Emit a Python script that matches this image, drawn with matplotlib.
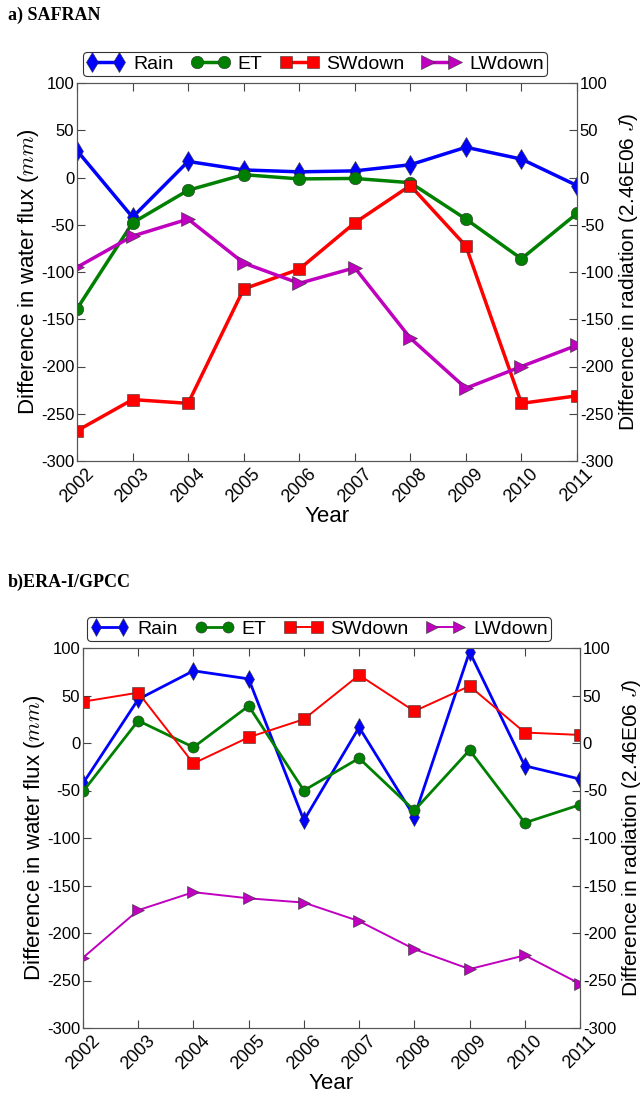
import matplotlib
matplotlib.use("Agg")
import matplotlib.pyplot as plt

plt.rcParams['font.family'] = ['Liberation Sans', 'DejaVu Sans']
plt.rcParams['axes.unicode_minus'] = False
plt.rcParams['mathtext.fontset'] = 'cm'

years = [2002, 2003, 2004, 2005, 2006, 2007, 2008, 2009, 2010, 2011]

# a) SAFRAN
rain_a = [28.5, -42, 17, 8, 6, 7, 13.5, 32, 19.5, -8.5]
et_a = [-139, -48, -13.5, 3, -1.5, -1, -5.5, -44, -86, -38]
sw_a = [-268, -235, -239, -118, -97, -48, -8.5, -72.5, -239, -231]
lw_a = [-95, -62, -44, -90.5, -112, -95.5, -170, -223, -200, -177.5]

# b) ERA-I/GPCC
rain_b = [-42.5, 46, 76, 67.5, -81.5, 16.5, -77.5, 96, -24, -38]
et_b = [-51, 23.5, -4.5, 39, -50, -16, -71, -7.5, -84, -65]
sw_b = [43.5, 53, -21.5, 6, 25, 71.5, 33.5, 60, 11, 8.5]
lw_b = [-226, -176, -157, -163.5, -168, -187.5, -217, -238, -223.5, -253.5]

yticks = [-300, -250, -200, -150, -100, -50, 0, 50, 100]

fig = plt.figure(figsize=(6.42, 10.94), dpi=100)


def panel(rect, rain, et, sw, lw, lw_main, lw_rad, ms, legend_xy):
    ax = fig.add_axes(rect)
    ax2 = ax.twinx()
    edge = dict(mec='#333333', mew=0.4)
    h1, = ax.plot(years, rain, color='b', marker='d', lw=lw_main, ms=ms + 1, **edge)
    h2, = ax.plot(years, et, color='g', marker='o', lw=lw_main, ms=ms, **edge)
    h3, = ax2.plot(years, sw, color='r', marker='s', lw=lw_rad, ms=ms, **edge)
    h4, = ax2.plot(years, lw, color='m', marker='>', lw=lw_rad, ms=ms + 1, **edge)
    for a in (ax, ax2):
        a.set_ylim(-300, 100)
        a.set_yticks(yticks)
        a.set_yticklabels([str(t) for t in yticks])
        a.tick_params(direction='in', length=6, labelsize=12, color='#444444', pad=2)
        for s in a.spines.values():
            s.set_color('#555555')
    ax.set_xlim(2002, 2011)
    ax.set_xticks(years)
    ax.set_xticklabels([str(y) for y in years], rotation=45, fontsize=13)
    ax.tick_params(axis='x', top=True, pad=3)
    ax.set_xlabel('Year', fontsize=16, labelpad=0)
    ax.set_ylabel('Difference in water flux ($mm$)', fontsize=16, labelpad=0)
    ax2.set_ylabel('Difference in radiation (2.46E06 $J$)', fontsize=15, labelpad=3)
    leg = fig.legend([h1, h2, h3, h4], ['Rain', 'ET', 'SWdown', 'LWdown'],
                     loc='center', bbox_to_anchor=legend_xy, ncol=4, numpoints=2,
                     fontsize=14, handlelength=2.0, handletextpad=0.4,
                     columnspacing=0.9, borderpad=0.15, fancybox=True,
                     framealpha=1, edgecolor='#333333')
    leg.get_frame().set_linewidth(0.8)
    return ax


panel([77 / 642, 1 - 461 / 1094, 500 / 642, 378 / 1094],
      rain_a, et_a, sw_a, lw_a, 2.5, 2.5, 9, (315 / 642, 1 - 64 / 1094))
panel([83 / 642, 1 - 1028 / 1094, 497 / 642, 380 / 1094],
      rain_b, et_b, sw_b, lw_b, 2.0, 1.4, 8, (319 / 642, 1 - 629 / 1094))

fig.text(8 / 642, 1 - 15 / 1094, 'a) SAFRAN', fontsize=13, fontweight='bold',
         family='Liberation Serif', va='center', ha='left')
fig.text(8 / 642, 1 - 582 / 1094, 'b)ERA-I/GPCC', fontsize=13, fontweight='bold',
         family='Liberation Serif', va='center', ha='left')

fig.savefig('out.png', dpi=100)
